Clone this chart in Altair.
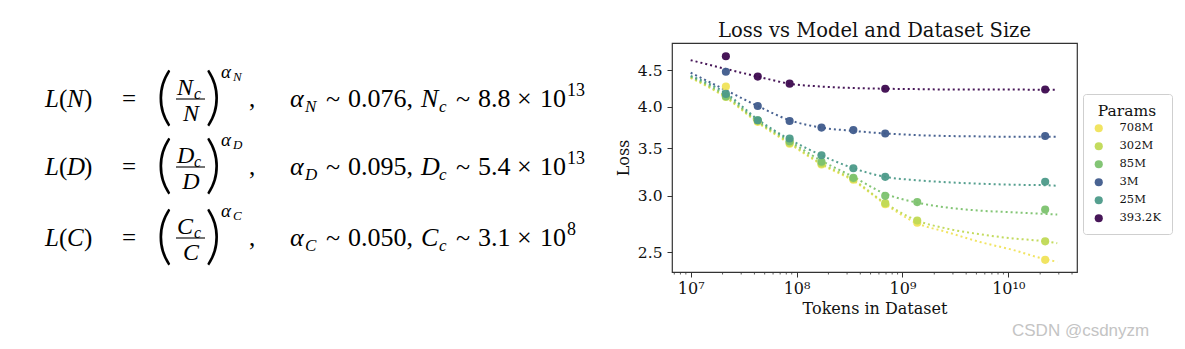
import altair as alt
import pandas as pd

# ---------------- data ----------------
params = ["708M", "302M", "85M", "3M", "25M", "393.2K"]
param_colors = ["#f0e35a", "#c0d955", "#7cc26e", "#3f5b8c", "#4c9a89", "#3d0a4f"]

tokens = [2.15e7, 4.3e7, 8.6e7, 1.72e8, 3.44e8, 6.88e8, 1.38e9, 2.23e10]
loss_708M = [4.27, 3.81, 3.55, 3.32, 3.16, 2.92, 2.75, 2.44]
loss_302M = [4.13, 3.82, 3.56, 3.33, 3.17, 2.93, 2.77, 2.59]
loss_85M = [4.14, 3.83, 3.58, 3.35, 3.18, 3.00, 2.94, 2.87]
loss_3M = [4.48, 4.01, 3.82, 3.74, 3.71, 3.67, None, 3.64]
loss_25M = [4.17, 3.83, 3.61, 3.42, 3.28, 3.19, None, 3.14]
loss_393K = [4.71, 4.41, 4.31, None, None, 4.24, None, 4.23]

fit_tokens = [1e7, 2.15e7, 4.3e7, 8.6e7, 1.72e8, 3.44e8, 6.88e8, 1.38e9,
              2.6e9, 5.4e9, 1.1e10, 2.23e10, 2.9e10]
fit_708M = [4.39, 4.12, 3.80, 3.55, 3.32, 3.15, 2.92, 2.745, 2.67, 2.585, 2.52, 2.445, 2.425]
fit_302M = [4.40, 4.13, 3.81, 3.56, 3.33, 3.16, 2.93, 2.77, 2.70, 2.65, 2.615, 2.59, 2.575]
fit_85M = [4.41, 4.15, 3.82, 3.58, 3.36, 3.19, 3.02, 2.935, 2.89, 2.86, 2.845, 2.83, 2.825]
fit_3M = [4.465, 4.22, 4.01, 3.83, 3.74, 3.70, 3.67, 3.65, 3.64, 3.635, 3.63, 3.63, 3.63]
fit_25M = [4.42, 4.18, 3.84, 3.60, 3.42, 3.28, 3.19, 3.155, 3.135, 3.12, 3.11, 3.105, 3.10]
fit_393K = [4.65, 4.52, 4.41, 4.31, 4.27, 4.25, 4.24, 4.235, 4.23, 4.23, 4.23, 4.225, 4.225]

x_ticks = [1e7, 1e8, 1e9, 1e10]
y_ticks = [2.5, 3.0, 3.5, 4.0, 4.5]

# equation rows: variable, alpha value, constant mantissa, exponent
eq_vars = ["N", "D", "C"]
eq_alpha = ["0.076", "0.095", "0.050"]
eq_mant = ["8.8", "5.4", "3.1"]
eq_exp = ["13", "13", "8"]

# ---------------- layout ----------------
OX, OY = 672, 43          # plot-area origin on the canvas
W, H = 405, 229
X_DOMAIN = [6.66e6, 4.457e10]
Y_DOMAIN = [2.346, 4.915]
SERIF = "DejaVu Serif"
EQ_FONT = "Liberation Serif"

pts_rows = []
for name, vals in zip(params, [loss_708M, loss_302M, loss_85M, loss_3M, loss_25M, loss_393K]):
    for t, v in zip(tokens, vals):
        if v is not None:
            pts_rows.append({"tokens": t, "loss": v, "params": name})
pts = pd.DataFrame(pts_rows)

x_scale = alt.Scale(type="log", domain=X_DOMAIN, nice=False)
y_scale = alt.Scale(type="log", domain=Y_DOMAIN, nice=False)
label_expr = ("datum.value < 5e7 ? '10\u2077' : datum.value < 5e8 ? '10\u2078' : "
              "datum.value < 5e9 ? '10\u2079' : '10\u00b9\u2070'")
x_axis = alt.Axis(values=x_ticks, labelExpr=label_expr, title="Tokens in Dataset",
                  labelFontSize=16, labelPadding=3, titlePadding=4)
y_axis = alt.Axis(values=y_ticks, format=".1f", title="Loss", labelPadding=5, titlePadding=6)
X = alt.X("tokens:Q", scale=x_scale, axis=x_axis)
Y = alt.Y("loss:Q", scale=y_scale, axis=y_axis)

line_layers = []
for name, col, fits in zip(params, param_colors,
                           [fit_708M, fit_302M, fit_85M, fit_3M, fit_25M, fit_393K]):
    df = pd.DataFrame({"tokens": fit_tokens, "loss": fits})
    line_layers.append(
        alt.Chart(df).mark_line(color=col, strokeDash=[2, 3], strokeWidth=2,
                                opacity=0.95, interpolate="monotone").encode(x=X, y=Y)
    )

points = alt.Chart(pts).mark_circle(size=66, opacity=0.95).encode(
    x=X, y=Y,
    color=alt.Color("params:N", scale=alt.Scale(domain=params, range=param_colors),
                    legend=alt.Legend(
                        title="Params", orient="none", legendX=411, legendY=51,
                        titleFont=SERIF, titleFontSize=15.5, titleFontWeight="normal",
                        titleColor="#111", titleAnchor="middle", titlePadding=3,
                        labelFont=SERIF, labelFontSize=11.5, labelColor="#111", labelOffset=15,
                        symbolType="circle", symbolSize=66, symbolOpacity=0.95,
                        symbolStrokeWidth=0, rowPadding=5, padding=10,
                        strokeColor="#cfcfcf", fillColor="white", cornerRadius=3)),
)

minor = [m * 10 ** e for e in range(6, 11) for m in range(2, 10)
         if X_DOMAIN[0] <= m * 10 ** e <= X_DOMAIN[1]]
minor_layer = alt.Chart(pd.DataFrame({"tokens": minor})).mark_rule(
    color="#333", strokeWidth=0.8
).encode(x=X, y=alt.value(H), y2=alt.value(H + 2.5))

# ---------------- equations (text) ----------------
one = pd.DataFrame({"k": [0]})
row_base = [107, 175, 246]
eq_layers = []


def add(t, x, y, fs, style="normal", align="left", font=EQ_FONT, weight="normal"):
    eq_layers.append(
        alt.Chart(one).mark_text(text=t, font=font, fontSize=fs, fontStyle=style,
                                 fontWeight=weight, align=align, baseline="alphabetic",
                                 color="black")
        .encode(x=alt.value(x - OX), y=alt.value(y - OY))
    )


bar_layers = []
for v, a, m, e, B in zip(eq_vars, eq_alpha, eq_mant, eq_exp, row_base):
    add("L", 45, B, 25, "italic")
    add("(", 59, B, 25)
    add(v, 67, B, 25, "italic")
    add(")", 84, B, 25)
    add("=", 129, B, 25, align="center")
    add("(", 156, B + 11, 64, font="Lato", weight=300)
    add(v, 177, B - 12, 24, "italic")
    add("c", 194, B - 8, 16, "italic")
    add(v, 191, B + 14, 24, "italic", "center")
    add(")", 205, B + 11, 64, font="Lato", weight=300)
    add("\u03b1", 221, B - 29, 19, "italic")
    add(v, 233, B - 26, 13, "italic")
    add(",", 249, B, 25)
    add("\u03b1", 290, B, 26, "italic")
    add(v, 305, B + 5, 17, "italic")
    add("~", 326, B, 26)
    add(a + ",", 348, B, 26)
    add(v, 421, B, 26, "italic")
    add("c", 439, B + 5, 17, "italic")
    add("~", 456, B, 26)
    add(m, 478, B, 26)
    add("\u00d7", 517, B, 26)
    add("10", 540, B, 26)
    add(e, 567, B - 11, 18)
    bar_layers.append(
        alt.Chart(one).mark_rule(color="black", strokeWidth=1.1).encode(
            x=alt.value(176 - OX), x2=alt.value(205 - OX), y=alt.value(B - 8 - OY))
    )

watermark = alt.Chart(one).mark_text(
    text="CSDN @csdnyzm", font="Liberation Sans", fontSize=17, color="#c4c4c4",
    align="left", baseline="alphabetic"
).encode(x=alt.value(1012 - OX), y=alt.value(336 - OY))

chart = alt.layer(
    *line_layers, points, minor_layer, *bar_layers, watermark, *eq_layers
).properties(
    width=W, height=H,
    padding={"left": OX, "top": OY, "right": 1185 - OX - W, "bottom": 349 - OY - H},
    autosize=alt.AutoSizeParams(type="none"),
    background="white",
    title=alt.TitleParams("Loss vs Model and Dataset Size", font=SERIF, fontSize=19.5,
                          fontWeight="normal", color="#111", anchor="middle", offset=2),
).configure_view(
    stroke="#333", strokeWidth=1.2
).configure_axis(
    labelFont=SERIF, titleFont=SERIF, labelFontSize=15.5, titleFontSize=16,
    titleFontWeight="normal", labelColor="#111", titleColor="#111",
    tickColor="#333", tickSize=5, domain=False, grid=False,
)

chart.save("out.html", embed_options={"renderer": "svg", "actions": False})
